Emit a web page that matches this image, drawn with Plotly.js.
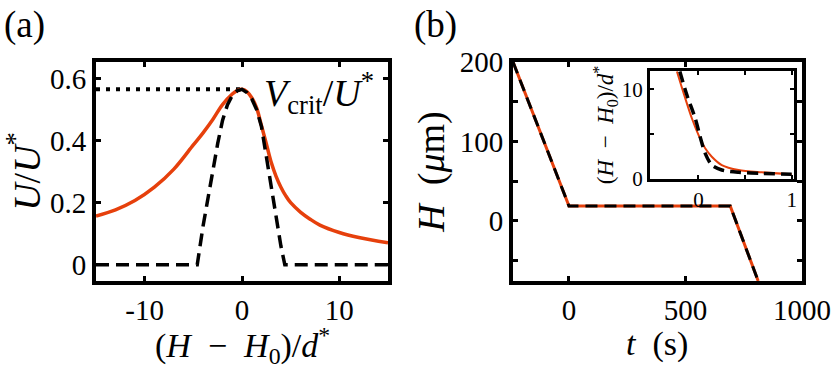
<!DOCTYPE html>
<html>
<head>
<meta charset="utf-8">
<script src="https://cdn.plot.ly/plotly-3.0.1.min.js"></script>
<style>
  html, body { margin: 0; padding: 0; background: #fff; }
  #fig { width: 831px; height: 370px; }
</style>
</head>
<body>
<div id="fig"></div>
<script>
// panel (a): scaled velocity vs scaled position
var aRedX = [-15, -13, -11, -9, -7, -5, -4, -3, -2, -1, -0.5, 0, 0.5, 1, 1.5, 2, 2.5, 3, 3.5, 4, 4.5, 5, 6, 7, 8, 10, 12, 15];
var aRedY = [0.157, 0.177, 0.207, 0.250, 0.308, 0.386, 0.425, 0.468, 0.516, 0.550, 0.561, 0.565, 0.558, 0.538, 0.505, 0.448, 0.390, 0.330, 0.285, 0.250, 0.222, 0.200, 0.170, 0.147, 0.128, 0.104, 0.088, 0.071];
var aBlkX = [-15, -4.6, -4, -3.5, -3, -2.5, -2, -1.5, -1, -0.5, 0, 0.5, 1, 1.5, 2, 2.5, 3, 3.5, 4, 4.4, 15];
var aBlkY = [0, 0, 0.125, 0.215, 0.305, 0.39, 0.465, 0.515, 0.545, 0.560, 0.565, 0.555, 0.535, 0.500, 0.445, 0.350, 0.245, 0.150, 0.060, 0, 0];
var vCritX = [-15, 0];
var vCritY = [0.565, 0.565];

// panel (b): H vs t
var bT = [-240, 0, 692, 812];
var bH = [200, 18.5, 18.5, -76];

// inset of (b)
var inRedX = [-0.231, -0.142, -0.071, 0, 0.072, 0.143, 0.25, 0.43, 0.68, 1.0];
var inRedY = [12, 9.0, 6.76, 4.9, 3.4, 2.46, 1.53, 0.97, 0.71, 0.49];
var inBlkX = [-0.2, -0.124, -0.035, 0.018, 0.072, 0.143, 0.25, 0.43, 0.68, 1.0];
var inBlkY = [12, 9.36, 6.76, 4.7, 2.84, 1.53, 0.97, 0.71, 0.6, 0.49];

var red = '#e6400c';
var serif = 'Liberation Serif, Times New Roman, serif';

var data = [
  { x: vCritX, y: vCritY, xaxis: 'x', yaxis: 'y', mode: 'lines',
    line: { color: 'black', width: 4, dash: '4px,6px' } },
  { x: aRedX, y: aRedY, xaxis: 'x', yaxis: 'y', mode: 'lines',
    line: { color: red, width: 3.5, shape: 'spline', smoothing: 1 } },
  { x: aBlkX, y: aBlkY, xaxis: 'x', yaxis: 'y', mode: 'lines',
    line: { color: 'black', width: 3.5, dash: '13px,7px' } },
  { x: bT, y: bH, xaxis: 'x2', yaxis: 'y2', mode: 'lines',
    line: { color: red, width: 3 } },
  { x: bT, y: bH, xaxis: 'x2', yaxis: 'y2', mode: 'lines',
    line: { color: 'black', width: 3, dash: '12px,7px' } },
  { x: inRedX, y: inRedY, xaxis: 'x3', yaxis: 'y3', mode: 'lines',
    line: { color: red, width: 2, shape: 'spline', smoothing: 0.8 } },
  { x: inBlkX, y: inBlkY, xaxis: 'x3', yaxis: 'y3', mode: 'lines',
    line: { color: 'black', width: 3.5, dash: '11px,6px', shape: 'spline', smoothing: 0.8 } }
];

function frameAxis(extra) {
  var ax = {
    showline: true, linewidth: 4, linecolor: 'black', mirror: 'allticks',
    ticks: 'inside', ticklen: 5, tickwidth: 3, tickcolor: 'black',
    showgrid: false, zeroline: false, fixedrange: true,
    ticklabeloverflow: 'allow',
    tickfont: { family: serif, size: 29, color: 'black' }
  };
  for (var k in extra) ax[k] = extra[k];
  return ax;
}

var titleFont = { family: serif, size: 38, color: 'black' };
var xTitleFont = { family: serif, size: 34, color: 'black' };
var insetFont = { family: serif, size: 21, color: 'black' };

var layout = {
  width: 831, height: 370,
  margin: { l: 96, r: 29, t: 62, b: 89 },
  paper_bgcolor: 'white', plot_bgcolor: 'white',
  showlegend: false,
  xaxis: frameAxis({
    domain: [0, 0.4136], anchor: 'y', range: [-15, 15],
    tickvals: [-10, 0, 10], ticktext: ['-10', '0', '10']
  }),
  yaxis: frameAxis({
    domain: [0, 1], anchor: 'x', range: [-0.052, 0.653],
    tickvals: [0, 0.2, 0.4, 0.6], ticktext: ['0', '0.2', '0.4', '0.6'],
    title: { text: '<i>U</i>/<i>U</i><sup>*</sup>', font: titleFont, standoff: 6 }
  }),
  xaxis2: frameAxis({
    domain: [0.5907, 1], anchor: 'y2', range: [-240, 1000],
    tickvals: [0, 500, 1000], ticktext: ['0', '500', '1000']
  }),
  yaxis2: frameAxis({
    domain: [0, 1], anchor: 'x2', range: [-76, 200],
    tickvals: [-50, 0, 50, 100, 150, 200], ticktext: ['', '0', '', '100', '', '200'],
    title: { text: '<i>H</i>\u2002(<i>\u03bc</i>m)', font: titleFont, standoff: 4 }
  }),
  xaxis3: frameAxis({
    domain: [0.7847, 0.988], anchor: 'y3', range: [-0.52, 1.02],
    linewidth: 3, ticklen: 4, tickwidth: 2,
    tickvals: [0, 0.5, 1], ticktext: ['0', '', '1'],
    tickfont: insetFont
  }),
  yaxis3: frameAxis({
    domain: [0.4671, 0.9589], anchor: 'x3', range: [0, 12.05],
    linewidth: 3, ticklen: 4, tickwidth: 2,
    tickvals: [0, 5, 10], ticktext: ['0', '', '10'],
    tickfont: insetFont,
    title: { text: '(<i>H</i>\u2002\u2212\u2002<i>H</i><sub>0</sub>)/<i>d</i><sup>*</sup>', font: { family: serif, size: 23, color: 'black' }, standoff: 2 }
  }),
  annotations: [
    { xref: 'paper', yref: 'paper', x: -0.1331, y: 1.169, xanchor: 'left', yanchor: 'middle',
      text: '(a)', showarrow: false, font: { family: serif, size: 37, color: 'black' } },
    { xref: 'paper', yref: 'paper', x: 0.4476, y: 1.169, xanchor: 'left', yanchor: 'middle',
      text: '(b)', showarrow: false, font: { family: serif, size: 37, color: 'black' } },
    { xref: 'paper', yref: 'paper', x: 0.2351, y: 0.8584, xanchor: 'left', yanchor: 'middle',
      text: '<i>V</i><sub>crit</sub>/<i>U</i><sup>*</sup>', showarrow: false,
      font: { family: serif, size: 38, color: 'black' } },
    // x-axis titles, placed by hand under each panel
    { xref: 'paper', yref: 'paper', x: 0.2068, y: -0.2968, xanchor: 'center', yanchor: 'middle',
      text: '(<i>H</i>\u2002\u2212\u2002<i>H</i><sub>0</sub>)/<i>d</i><sup>*</sup>', showarrow: false, font: xTitleFont },
    { xref: 'paper', yref: 'paper', x: 0.7953, y: -0.2877, xanchor: 'center', yanchor: 'middle',
      text: '<i>t</i>\u2002(s)', showarrow: false, font: xTitleFont }
  ]
};

Plotly.newPlot('fig', data, layout, { staticPlot: true, displayModeBar: false });
</script>
</body>
</html>
